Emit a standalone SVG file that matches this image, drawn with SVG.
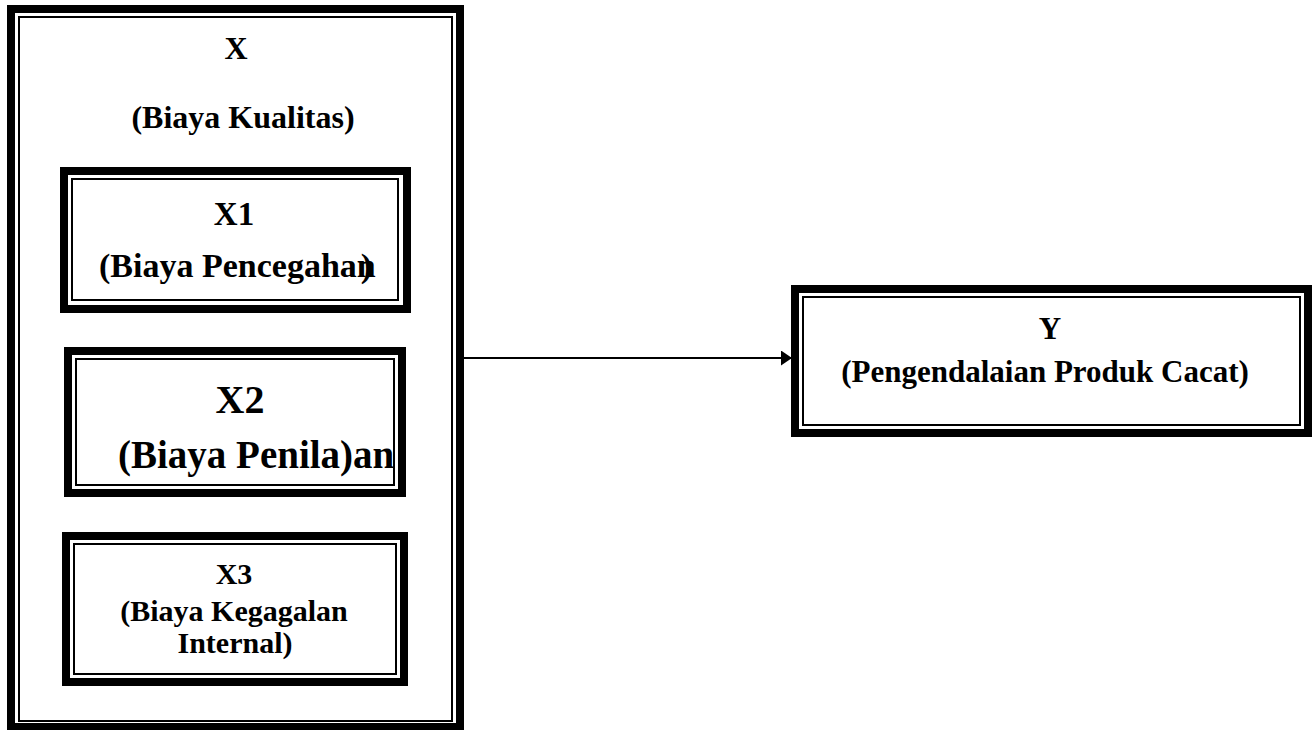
<svg xmlns="http://www.w3.org/2000/svg" width="1316" height="730" viewBox="0 0 1316 730">
<style>
.thick{fill:none;stroke:#000;stroke-width:8}
.thin{fill:none;stroke:#000;stroke-width:2}
text{font-family:"Liberation Serif","Times New Roman",serif;font-weight:bold;fill:#000}
.c{text-anchor:middle}
</style>
<defs>
<marker id="ah" markerWidth="11" markerHeight="15" refX="11" refY="7.5" orient="auto" markerUnits="userSpaceOnUse">
<path d="M0,0 L11,7.5 L0,15 Z" fill="#000"/>
</marker>
</defs>
<rect width="1316" height="730" fill="#fff"/>
<g id="node-X">
<rect class="thick" x="11" y="9" width="449" height="718"/>
<rect class="thin" x="19" y="17" width="433" height="704"/>
<text class="c" x="236" y="59" font-size="32">X</text>
<text class="c" x="243" y="128" font-size="32">(Biaya Kualitas)</text>
</g>
<g id="node-X1">
<rect class="thick" x="64" y="171" width="343" height="138"/>
<rect class="thin" x="72" y="179" width="326" height="121"/>
<text class="c" x="234" y="225" font-size="33">X1</text>
<text x="99" y="277" font-size="34">(Biaya Pencegahan<tspan dx="-15">)</tspan></text>
</g>
<g id="node-X2">
<rect class="thick" x="68" y="351" width="334" height="142"/>
<rect class="thin" x="76" y="359" width="318" height="126"/>
<text class="c" x="240" y="413" font-size="40">X2</text>
<text x="118" y="468" font-size="39">(Biaya Penila)an</text>
</g>
<g id="node-X3">
<rect class="thick" x="66" y="536" width="338" height="146"/>
<rect class="thin" x="74" y="544" width="322" height="130"/>
<text class="c" x="234" y="584" font-size="30">X3</text>
<text class="c" x="234" y="621" font-size="30">(Biaya Kegagalan</text>
<text class="c" x="235" y="653" font-size="30">Internal)</text>
</g>
<g id="node-Y">
<rect class="thick" x="795" y="289" width="513" height="144"/>
<rect class="thin" x="803" y="297" width="497" height="128"/>
<text class="c" x="1050" y="339" font-size="31">Y</text>
<text class="c" x="1045" y="382" font-size="31">(Pengendalaian Produk Cacat)</text>
</g>
<g id="connectors">
<line x1="464" y1="358" x2="792" y2="358" stroke="#000" stroke-width="2" marker-end="url(#ah)"/>
</g>
</svg>
